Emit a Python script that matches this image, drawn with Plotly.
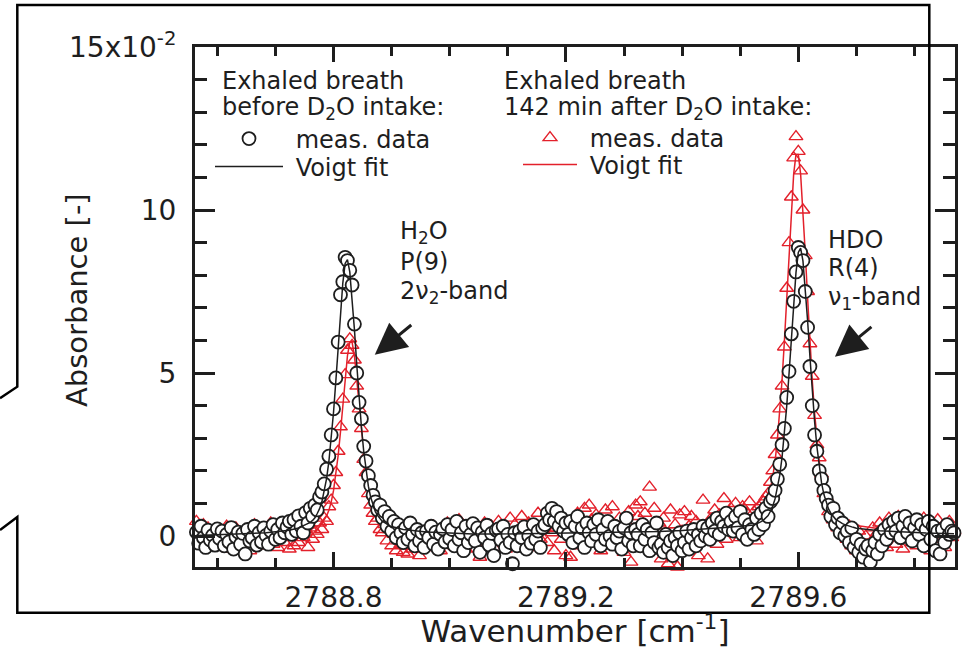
import plotly.graph_objects as go

# ---------------- data ----------------
wavenumber = [
    2788.564, 2788.568, 2788.572, 2788.576, 2788.580, 2788.584, 2788.588, 2788.592, 2788.596, 2788.600,
    2788.604, 2788.608, 2788.612, 2788.616, 2788.620, 2788.624, 2788.628, 2788.632, 2788.636, 2788.640,
    2788.644, 2788.648, 2788.652, 2788.656, 2788.660, 2788.664, 2788.668, 2788.672, 2788.676, 2788.680,
    2788.684, 2788.688, 2788.692, 2788.696, 2788.700, 2788.704, 2788.708, 2788.712, 2788.716, 2788.720,
    2788.724, 2788.728, 2788.732, 2788.736, 2788.740, 2788.744, 2788.748, 2788.752, 2788.756, 2788.760,
    2788.764, 2788.768, 2788.772, 2788.776, 2788.780, 2788.784, 2788.788, 2788.792, 2788.796, 2788.800,
    2788.804, 2788.808, 2788.812, 2788.816, 2788.820, 2788.824, 2788.828, 2788.832, 2788.836, 2788.840,
    2788.844, 2788.848, 2788.852, 2788.856, 2788.860, 2788.864, 2788.868, 2788.872, 2788.876, 2788.880,
    2788.884, 2788.888, 2788.892, 2788.896, 2788.900, 2788.904, 2788.908, 2788.912, 2788.916, 2788.920,
    2788.924, 2788.928, 2788.932, 2788.936, 2788.940, 2788.944, 2788.948, 2788.952, 2788.956, 2788.960,
    2788.964, 2788.968, 2788.972, 2788.976, 2788.980, 2788.984, 2788.988, 2788.992, 2788.996, 2789.000,
    2789.004, 2789.008, 2789.012, 2789.016, 2789.020, 2789.024, 2789.028, 2789.032, 2789.036, 2789.040,
    2789.044, 2789.048, 2789.052, 2789.056, 2789.060, 2789.064, 2789.068, 2789.072, 2789.076, 2789.080,
    2789.084, 2789.088, 2789.092, 2789.096, 2789.100, 2789.104, 2789.108, 2789.112, 2789.116, 2789.120,
    2789.124, 2789.128, 2789.132, 2789.136, 2789.140, 2789.144, 2789.148, 2789.152, 2789.156, 2789.160,
    2789.164, 2789.168, 2789.172, 2789.176, 2789.180, 2789.184, 2789.188, 2789.192, 2789.196, 2789.200,
    2789.204, 2789.208, 2789.212, 2789.216, 2789.220, 2789.224, 2789.228, 2789.232, 2789.236, 2789.240,
    2789.244, 2789.248, 2789.252, 2789.256, 2789.260, 2789.264, 2789.268, 2789.272, 2789.276, 2789.280,
    2789.284, 2789.288, 2789.292, 2789.296, 2789.300, 2789.304, 2789.308, 2789.312, 2789.316, 2789.320,
    2789.324, 2789.328, 2789.332, 2789.336, 2789.340, 2789.344, 2789.348, 2789.352, 2789.356, 2789.360,
    2789.364, 2789.368, 2789.372, 2789.376, 2789.380, 2789.384, 2789.388, 2789.392, 2789.396, 2789.400,
    2789.404, 2789.408, 2789.412, 2789.416, 2789.420, 2789.424, 2789.428, 2789.432, 2789.436, 2789.440,
    2789.444, 2789.448, 2789.452, 2789.456, 2789.460, 2789.464, 2789.468, 2789.472, 2789.476, 2789.480,
    2789.484, 2789.488, 2789.492, 2789.496, 2789.500, 2789.504, 2789.508, 2789.512, 2789.516, 2789.520,
    2789.524, 2789.528, 2789.532, 2789.536, 2789.540, 2789.544, 2789.548, 2789.552, 2789.556, 2789.560,
    2789.564, 2789.568, 2789.572, 2789.576, 2789.580, 2789.584, 2789.588, 2789.592, 2789.596, 2789.600,
    2789.604, 2789.608, 2789.612, 2789.616, 2789.620, 2789.624, 2789.628, 2789.632, 2789.636, 2789.640,
    2789.644, 2789.648, 2789.652, 2789.656, 2789.660, 2789.664, 2789.668, 2789.672, 2789.676, 2789.680,
    2789.684, 2789.688, 2789.692, 2789.696, 2789.700, 2789.704, 2789.708, 2789.712, 2789.716, 2789.720,
    2789.724, 2789.728, 2789.732, 2789.736, 2789.740, 2789.744, 2789.748, 2789.752, 2789.756, 2789.760,
    2789.764, 2789.768, 2789.772, 2789.776, 2789.780, 2789.784, 2789.788, 2789.792, 2789.796, 2789.800,
    2789.804, 2789.808, 2789.812, 2789.816, 2789.820, 2789.824, 2789.828, 2789.832, 2789.836, 2789.840,
    2789.844, 2789.848, 2789.852, 2789.856, 2789.860, 2789.864, 2789.868,
]

# exhaled breath before D2O intake (x10^-2)
absorb_before = [
    0.12, -0.22, 0.30, -0.05, -0.35, 0.18, -0.12, 0.02, -0.28, 0.22,
    -0.08, 0.15, -0.30, 0.05, -0.18, 0.26, -0.40, -0.02, 0.12, -0.25,
    0.08, -0.55, 0.20, -0.15, -0.05, 0.30, -0.28, 0.10, -0.18, 0.25,
    0.02, -0.25, 0.15, 0.35, -0.10, 0.20, -0.05, 0.40, 0.10, 0.28,
    0.45, 0.05, 0.50, 0.15, 0.62, 0.30, 0.10, 0.72, 0.40, 0.85,
    0.60, 0.95, 0.80, 1.20, 1.35, 1.60, 2.05, 2.45, 3.10, 3.90,
    4.85, 5.95, 7.40, 7.80, 8.55, 8.45, 8.15, 7.70, 6.50, 5.00,
    4.10, 3.60, 2.75, 2.30, 1.85, 1.55, 1.25, 1.05, 0.80, 0.95,
    0.55, 0.75, 0.30, 0.60, 0.15, 0.45, -0.05, 0.35, 0.10, -0.20,
    0.25, -0.10, 0.40, 0.05, -0.30, 0.20, -0.15, 0.10, -0.35, 0.15,
    -0.05, 0.30, -0.25, 0.12, -0.40, 0.05, 0.22, -0.18, 0.35, -0.08,
    0.20, -0.30, 0.45, -0.10, 0.10, -0.45, 0.30, -0.20, 0.05, 0.38,
    -0.15, 0.25, -0.50, 0.12, -0.05, 0.33, -0.28, 0.08, -0.60, 0.18,
    0.22, -0.12, 0.30, -0.35, 0.05, -0.20, -0.85, 0.10, -0.30, 0.15,
    -0.05, 0.28, -0.40, 0.00, -0.22, 0.35, -0.10, 0.15, -0.35, 0.25,
    0.35, 0.70, 0.50, 0.85, 0.45, 0.75, 0.30, 0.55, 0.15, 0.40,
    0.05, 0.45, -0.20, 0.30, 0.60, -0.05, 0.25, -0.35, 0.40, 0.10,
    -0.15, 0.35, 0.05, 0.50, -0.30, 0.20, -0.10, 0.45, 0.00, -0.25,
    0.30, -0.05, 0.15, -0.40, 0.25, 0.55, -0.15, 0.10, -0.30, 0.20,
    0.05, -0.30, 0.35, -0.10, 0.20, -0.45, 0.10, -0.20, 0.40, -0.35,
    -0.25, -0.50, 0.05, -0.35, -0.15, -0.60, -0.05, -0.30, 0.10, -0.45,
    -0.20, 0.15, -0.40, -0.05, 0.20, -0.30, 0.05, -0.15, 0.30, 0.00,
    0.25, -0.10, 0.40, 0.15, 0.55, 0.05, 0.45, 0.30, 0.70, 0.20,
    0.45, 0.15, 0.60, 0.25, 0.75, 0.05, 0.50, -0.10, 0.35, 0.20,
    0.05, 0.55, 0.20, 0.70, 0.35, 0.85, 0.60, 1.05, 1.15, 1.40,
    1.75, 2.20, 2.80, 3.30, 4.25, 5.05, 6.20, 7.20, 8.10, 8.85,
    8.70, 8.45, 7.50, 6.40, 5.20, 4.00, 3.10, 2.60, 2.00, 1.75,
    1.40, 1.15, 0.95, 0.60, 0.85, 0.35, 0.55, 0.10, 0.40, 0.00,
    0.15, -0.20, 0.25, -0.35, -0.10, -0.50, -0.25, -0.65, -0.40, -0.30,
    -0.80, -0.45, -0.20, -0.55, 0.05, -0.30, 0.20, -0.10, 0.35, 0.10,
    0.45, 0.15, 0.55, -0.05, 0.30, 0.60, 0.10, 0.40, -0.15, 0.25,
    0.50, 0.05, 0.35, -0.30, 0.20, 0.45, -0.10, 0.30, -0.45, 0.15,
    -0.55, 0.20, -0.20, 0.35, 0.05, 0.15, 0.10,
]

# exhaled breath 142 min after D2O intake (x10^-2)
absorb_after = [
    0.45, 0.10, -0.20, 0.35, -0.05, 0.25, -0.30, 0.15, 0.00, -0.15,
    0.20, -0.25, 0.05, 0.30, -0.40, 0.10, -0.10, 0.25, -0.35, 0.05,
    -0.20, 0.15, -0.05, -0.45, 0.20, 0.35, -0.15, 0.05, -0.30, 0.10,
    0.25, -0.10, 0.40, -0.25, 0.10, -0.35, 0.00, 0.20, -0.20, 0.15,
    -0.40, 0.05, -0.30, 0.15, -0.20, 0.30, -0.05, 0.20, -0.35, 0.25,
    -0.10, 0.15, 0.05, 0.40, 0.20, 0.55, 0.45, 0.90, 1.10, 1.55,
    1.95, 2.60, 3.35, 4.20, 4.95, 5.70, 6.05, 5.85, 5.40, 4.60,
    3.90, 3.30, 2.35, 1.95, 1.30, 0.95, 0.70, 0.45, 0.55, 0.20,
    0.10, 0.35, -0.15, 0.20, -0.30, 0.05, -0.45, 0.15, -0.25, -0.50,
    -0.30, -0.55, 0.05, -0.40, -0.15, 0.20, -0.60, -0.10, 0.10, -0.35,
    0.15, -0.25, 0.30, -0.10, 0.05, -0.45, 0.25, -0.20, 0.40, 0.00,
    0.35, -0.30, 0.10, 0.50, -0.15, 0.25, -0.40, 0.05, 0.30, -0.20,
    0.15, -0.10, -0.65, 0.20, 0.40, -0.25, 0.05, 0.30, -0.35, 0.10,
    0.45, -0.15, 0.25, -0.40, 0.10, 0.55, -0.05, 0.35, -0.30, 0.20,
    0.60, 0.05, -0.25, 0.40, 0.15, -0.35, 0.30, 0.70, -0.10, 0.20,
    0.35, -0.20, 0.50, 0.10, -0.45, 0.25, 0.65, -0.10, 0.30, -0.60,
    0.15, -0.65, 0.40, 0.05, 0.70, -0.30, 0.25, 0.85, 0.10, 0.95,
    0.50, -0.20, 0.65, 0.20, -0.45, 0.35, 0.80, -0.05, 0.45, 0.90,
    0.30, -0.25, 0.55, 0.05, -0.50, 0.40, 0.75, -0.80, 0.20, 0.95,
    0.60, 1.05, -0.30, 0.70, 0.20, 1.50, -0.10, 0.85, -0.45, 0.40,
    -0.70, 0.55, 0.10, -0.85, 0.80, -0.20, 0.35, -0.95, 0.65, 0.15,
    0.75, -0.40, 0.30, 0.60, -0.15, 0.45, -0.60, 0.20, 1.10, 0.05,
    -0.70, 0.50, 0.15, 0.80, -0.25, 0.65, 0.30, 1.15, -0.10, 0.55,
    0.85, 0.25, 1.00, 0.40, -0.05, 0.90, 0.30, 0.70, 1.05, 0.20,
    0.75, -0.15, 0.90, 0.60, 1.05, 1.20, 1.30, 1.65, 2.00, 2.50,
    3.10, 3.90, 4.60, 5.80, 7.60, 9.00, 10.40, 11.60, 12.25, 11.80,
    11.20, 10.00, 8.60, 7.50, 5.90, 4.90, 3.70, 2.80, 2.40, 1.90,
    1.30, 1.20, 0.75, 0.95, 0.50, 0.70, 0.25, 0.55, 0.10, 0.35,
    -0.10, 0.30, -0.30, 0.05, -0.45, 0.15, -0.35, -0.60, 0.00, -0.40,
    -0.20, 0.25, -0.50, 0.10, 0.40, -0.15, 0.30, -0.35, 0.55, 0.05,
    0.35, -0.25, 0.60, 0.15, -0.40, 0.30, 0.05, 0.45, -0.20, 0.20,
    -0.30, 0.40, 0.10, 0.55, -0.15, 0.25, -0.45, 0.35, 0.00, 0.50,
    -0.10, 0.30, -0.35, 0.20, 0.45, -0.05, 0.15,
]

fit_wavenumber = [
    2788.564, 2788.604, 2788.644, 2788.684,
    2788.724, 2788.728, 2788.732, 2788.736, 2788.740, 2788.744, 2788.748, 2788.752, 2788.756, 2788.760,
    2788.764, 2788.768, 2788.772, 2788.776, 2788.780, 2788.784, 2788.788, 2788.792, 2788.796, 2788.800,
    2788.804, 2788.808, 2788.812, 2788.816, 2788.820, 2788.824, 2788.828, 2788.832, 2788.836, 2788.840,
    2788.844, 2788.848, 2788.852, 2788.856, 2788.860, 2788.864, 2788.868, 2788.872, 2788.876, 2788.880,
    2788.884, 2788.888, 2788.892, 2788.896, 2788.900, 2788.904, 2788.908, 2788.912, 2788.916, 2788.920,
    2788.960, 2789.000, 2789.040, 2789.080, 2789.120, 2789.160, 2789.200, 2789.240, 2789.280, 2789.320,
    2789.360, 2789.400, 2789.440, 2789.480,
    2789.524, 2789.528, 2789.532, 2789.536, 2789.540, 2789.544, 2789.548, 2789.552, 2789.556, 2789.560,
    2789.564, 2789.568, 2789.572, 2789.576, 2789.580, 2789.584, 2789.588, 2789.592, 2789.596, 2789.600,
    2789.604, 2789.608, 2789.612, 2789.616, 2789.620, 2789.624, 2789.628, 2789.632, 2789.636, 2789.640,
    2789.644, 2789.648, 2789.652, 2789.656, 2789.660, 2789.664, 2789.668, 2789.672, 2789.676, 2789.680,
    2789.684, 2789.688, 2789.692, 2789.696, 2789.700,
    2789.740, 2789.780, 2789.820, 2789.868,
]

fit_before = [
    0.02, 0.04, 0.06, 0.10,
    0.18, 0.19, 0.21, 0.23, 0.25, 0.28, 0.31, 0.34, 0.38, 0.42,
    0.48, 0.56, 0.69, 0.84, 1.05, 1.35, 1.75, 2.28, 2.96, 3.79,
    4.75, 5.80, 6.85, 7.76, 8.36, 8.48, 8.10, 7.33, 6.34, 5.26,
    4.25, 3.35, 2.60, 2.00, 1.53, 1.19, 0.94, 0.75, 0.63, 0.53,
    0.45, 0.41, 0.36, 0.32, 0.29, 0.27, 0.25, 0.23, 0.21, 0.20,
    0.12, 0.08, 0.06, 0.06, 0.07, 0.09, 0.10, 0.10, 0.11, 0.12,
    0.14, 0.17, 0.21, 0.27,
    0.34, 0.37, 0.40, 0.44, 0.49, 0.55, 0.63, 0.76, 0.92, 1.14,
    1.45, 1.86, 2.41, 3.11, 3.97, 4.97, 6.05, 7.14, 8.08, 8.70,
    8.83, 8.44, 7.64, 6.61, 5.50, 4.45, 3.52, 2.74, 2.12, 1.63,
    1.28, 1.02, 0.83, 0.70, 0.60, 0.52, 0.47, 0.42, 0.38, 0.35,
    0.32, 0.30, 0.28, 0.26, 0.24,
    0.16, 0.12, 0.09, 0.07,
]

fit_after = [
    0.05, 0.06, 0.07, 0.09,
    0.12, 0.12, 0.13, 0.14, 0.14, 0.15, 0.16, 0.17, 0.19, 0.21,
    0.23, 0.26, 0.30, 0.34, 0.39, 0.49, 0.61, 0.79, 1.04, 1.39,
    1.86, 2.47, 3.19, 4.00, 4.82, 5.53, 5.94, 5.94, 5.53, 4.82,
    4.00, 3.19, 2.47, 1.86, 1.39, 1.04, 0.79, 0.61, 0.49, 0.39,
    0.34, 0.30, 0.26, 0.23, 0.21, 0.19, 0.17, 0.16, 0.15, 0.14,
    0.11, 0.10, 0.10, 0.11, 0.12, 0.13, 0.14, 0.15, 0.17, 0.19,
    0.22, 0.26, 0.32, 0.42,
    0.55, 0.60, 0.67, 0.76, 0.86, 1.00, 1.20, 1.45, 1.82, 2.30,
    2.95, 3.78, 4.78, 5.96, 7.30, 8.68, 10.00, 11.10, 11.70, 11.70,
    11.10, 10.00, 8.68, 7.30, 5.96, 4.78, 3.78, 2.95, 2.30, 1.82,
    1.45, 1.19, 0.99, 0.85, 0.74, 0.66, 0.59, 0.54, 0.49, 0.45,
    0.42, 0.39, 0.36, 0.34, 0.32,
    0.22, 0.17, 0.14, 0.11,
]

x_tick_vals = [2788.8, 2789.2, 2789.6]
x_tick_text = ["2788.8", "2789.2", "2789.6"]
y_tick_vals = [0, 5, 10, 15]
y_tick_text = ["0", "5", "10", "15x10<sup>-2</sup>"]

# arrow targets (data coordinates)
arrow_h2o = (2788.871, 5.56)
arrow_hdo = (2789.663, 5.50)

# ---------------- figure ----------------
W, H = 968, 649
L, R, T, B = 195, 955, 47, 567


def px(x):
    return (x - L) / (R - L)


def py(y):
    return (B - y) / (B - T)


RED = "#e3202b"
INK = "#1e1e1e"
FONT = "DejaVu Sans"
TXT = 24

fig = go.Figure()

fig.add_trace(go.Scatter(
    x=wavenumber, y=absorb_after, mode="markers", name="\u00a0meas. data",
    legend="legend3", cliponaxis=False, showlegend=True,
    marker=dict(symbol="triangle-up-open", size=12, color=RED, line=dict(width=1.4, color=RED)),
))
fig.add_trace(go.Scatter(
    x=fit_wavenumber, y=fit_after, mode="lines", name="\u00a0Voigt fit",
    legend="legend4", showlegend=True, line=dict(color=RED, width=1.5),
))
fig.add_trace(go.Scatter(
    x=wavenumber, y=absorb_before, mode="markers", name="\u00a0meas. data",
    legend="legend", cliponaxis=False, showlegend=True,
    marker=dict(symbol="circle", size=13, color="white", line=dict(width=1.8, color=INK)),
))
fig.add_trace(go.Scatter(
    x=fit_wavenumber, y=fit_before, mode="lines", name="\u00a0Voigt fit",
    legend="legend2", showlegend=True, line=dict(color=INK, width=1.5),
))

axis_common = dict(
    showline=True, linewidth=3, linecolor=INK, mirror="ticks",
    ticks="inside", tickwidth=3, tickcolor=INK,
    showgrid=False, zeroline=False,
    tickfont=dict(family=FONT, size=28, color=INK),
)

fig.update_xaxes(
    **axis_common,
    range=[2788.5616, 2789.8697],
    tickmode="array", tickvals=x_tick_vals, ticktext=x_tick_text,
    ticklen=15, ticklabelstandoff=3,
    minor=dict(dtick=0.1, tick0=2788.8, ticks="inside", ticklen=9, tickwidth=2.5, tickcolor=INK),
    title=dict(text="Wavenumber [cm<sup>-1</sup>]", font=dict(family=FONT, size=31, color=INK), standoff=12),
)
fig.update_yaxes(
    **axis_common,
    range=[-0.95, 15],
    tickmode="array", tickvals=y_tick_vals, ticktext=y_tick_text,
    ticklen=20, ticklabelstandoff=10,
    minor=dict(dtick=1, tick0=0, ticks="inside", ticklen=12, tickwidth=2.5, tickcolor=INK),
)


def legend_at(x, y, width):
    return dict(x=px(x), y=py(y), xanchor="left", yanchor="middle",
                bgcolor="rgba(0,0,0,0)", borderwidth=0, itemwidth=width,
                font=dict(family=FONT, size=TXT, color=INK))


frame = (
    f"M{px(0)},{py(398.3)} L{px(17.3)},{py(386.7)} L{px(17.3)},{py(5)} "
    f"L{px(929.3)},{py(5)} L{px(929.3)},{py(612.7)} L{px(17.3)},{py(612.7)} "
    f"L{px(17.3)},{py(517)} L{px(0)},{py(530)}"
)

text_font = dict(family=FONT, size=TXT, color=INK)


def label(x, y, text):
    return dict(x=px(x), y=py(y), xref="paper", yref="paper", text=text,
                showarrow=False, xanchor="left", yanchor="middle", align="left",
                font=text_font)


annotations = [
    label(220, 81, "Exhaled breath"),
    label(220, 108, "before D<sub>2</sub>O intake:"),
    label(502, 81, "Exhaled breath"),
    label(502, 108, "142 min after D<sub>2</sub>O intake:"),
    label(398, 233, "H<sub>2</sub>O"),
    label(398, 262, "P(9)"),
    label(398, 292, "2ν<sub>2</sub>-band"),
    label(826, 240, "HDO"),
    label(826, 268, "R(4)"),
    label(826, 298, "ν<sub>1</sub>-band"),
    dict(x=px(77), y=py(300), xref="paper", yref="paper", text="Absorbance [-]",
         showarrow=False, textangle=-90, xanchor="center", yanchor="middle",
         font=dict(family=FONT, size=29, color=INK)),
]
for (ax_, ay_) in (arrow_h2o, arrow_hdo):
    annotations.append(dict(
        x=ax_, y=ay_, xref="x", yref="y", text="", showarrow=True,
        ax=38, ay=-31, arrowhead=2, arrowsize=2.1, arrowwidth=3, arrowcolor=INK,
    ))

fig.update_layout(
    width=W, height=H,
    showlegend=True,
    margin=dict(l=L, r=W - R, t=T, b=H - B, autoexpand=False),
    paper_bgcolor="white", plot_bgcolor="white",
    font=dict(family=FONT, color=INK),
    legend=legend_at(210, 139, 68),
    legend2=legend_at(210, 167, 68),
    legend3=legend_at(518, 138, 54),
    legend4=legend_at(518, 165, 54),
    annotations=annotations,
    shapes=[dict(type="path", path=frame, xref="paper", yref="paper",
                 line=dict(color="black", width=2.5), layer="above")],
)

fig.write_html("out.html")
